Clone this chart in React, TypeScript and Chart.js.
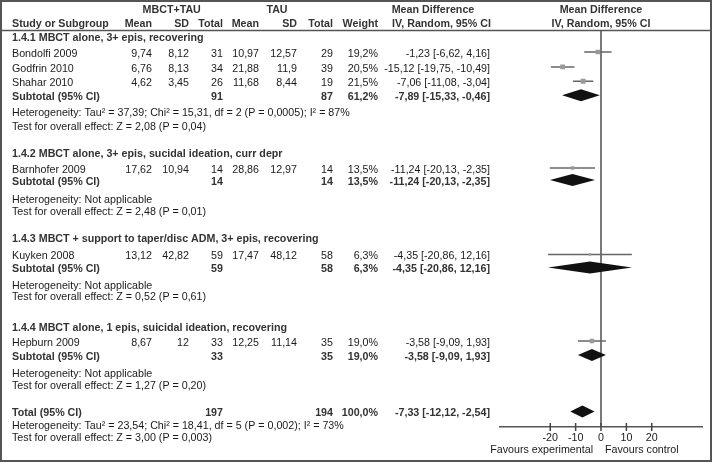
import { useEffect, useRef } from 'react';
import { Chart, registerables } from 'chart.js';

Chart.register(...registerables);

// ---------- DATA ----------
const studies = ['Bondolfi 2009', 'Godfrin 2010', 'Shahar 2010', 'Barnhofer 2009', 'Kuyken 2008', 'Hepburn 2009'];
const studyGroup = [0, 0, 0, 1, 2, 3];
const expMean = [9.74, 6.76, 4.62, 17.62, 13.12, 8.67];
const expSD = [8.12, 8.13, 3.45, 10.94, 42.82, 12];
const expN = [31, 34, 26, 14, 59, 33];
const ctlMean = [10.97, 21.88, 11.68, 28.86, 17.47, 12.25];
const ctlSD = [12.57, 11.9, 8.44, 12.97, 48.12, 11.14];
const ctlN = [29, 39, 19, 14, 58, 35];
const weight = [19.2, 20.5, 21.5, 13.5, 6.3, 19.0];
const md = [-1.23, -15.12, -7.06, -11.24, -4.35, -3.58];
const ciLo = [-6.62, -19.75, -11.08, -20.13, -20.86, -9.09];
const ciHi = [4.16, -10.49, -3.04, -2.35, 12.16, 1.93];

const groupTitles = [
  '1.4.1 MBCT alone, 3+ epis, recovering',
  '1.4.2 MBCT alone, 3+ epis, sucidal ideation, curr depr',
  '1.4.3 MBCT + support to taper/disc ADM, 3+ epis, recovering',
  '1.4.4 MBCT alone, 1 epis, suicidal ideation, recovering',
];
const subExpN = [91, 14, 59, 33];
const subCtlN = [87, 14, 58, 35];
const subWeight = [61.2, 13.5, 6.3, 19.0];
const subMD = [-7.89, -11.24, -4.35, -3.58];
const subLo = [-15.33, -20.13, -20.86, -9.09];
const subHi = [-0.46, -2.35, 12.16, 1.93];
const subHet = [
  'Heterogeneity: Tau² = 37,39; Chi² = 15,31, df = 2 (P = 0,0005); I² = 87%',
  'Heterogeneity: Not applicable',
  'Heterogeneity: Not applicable',
  'Heterogeneity: Not applicable',
];
const subTest = [
  'Test for overall effect: Z = 2,08 (P = 0,04)',
  'Test for overall effect: Z = 2,48 (P = 0,01)',
  'Test for overall effect: Z = 0,52 (P = 0,61)',
  'Test for overall effect: Z = 1,27 (P = 0,20)',
];
const totalExpN = 197;
const totalCtlN = 194;
const totalWeight = 100.0;
const totalMD = -7.33;
const totalLo = -12.12;
const totalHi = -2.54;
const totalHet = 'Heterogeneity: Tau² = 23,54; Chi² = 18,41, df = 5 (P = 0,002); I² = 73%';
const totalTest = 'Test for overall effect: Z = 3,00 (P = 0,003)';

const axisTicks = [-20, -10, 0, 10, 20];
const axisMin = -40;
const axisMax = 40;
const favoursLeft = 'Favours experimental';
const favoursRight = 'Favours control';

// ---------- LAYOUT (row slots, 1 unit = one text line) ----------
const Y_MAX = 27.31;
const ROW_HDR1 = -1.57;
const ROW_HDR2 = -0.6;
const ROW_GROUP = [0.37, 8.32, 14.2, 20.34];
const ROW_STUDY = [1.45, 2.48, 3.47, 9.45, 15.41, 21.38];
const ROW_SUB = [4.43, 10.28, 16.31, 22.34];
const ROW_HET = [5.5, 11.52, 17.45, 23.5];
const ROW_TEST = [6.48, 12.32, 18.21, 24.34];
const ROW_TOTAL = 26.24;
const ROW_TOTHET = 27.1;
const ROW_TOTTEST = 27.93;
const ROW_FAV = 28.76;

const FONT = '"Liberation Sans", Arial, sans-serif';
const FS = 10.7;
const TEXT_DY = 2;
const COL = { name: 12, eMean: 152, eSD: 189, eN: 223, cMean: 259, cSD: 297, cN: 333, w: 378, ci: 490 };

const fmt = (v: number, d?: number) => (d === undefined ? String(v) : v.toFixed(d)).replace('.', ',');
const ciText = (m: number, l: number, h: number) => `${fmt(m, 2)} [${fmt(l, 2)}, ${fmt(h, 2)}]`;

const forestPlugin = {
  id: 'forest',
  beforeDatasetsDraw(chart: any) {
    const { ctx, chartArea, scales } = chart;
    const x0 = scales.x.getPixelForValue(0);
    ctx.save();
    ctx.strokeStyle = '#7a7a7a';
    ctx.lineWidth = 2;
    ctx.beginPath();
    ctx.moveTo(x0, chartArea.top);
    ctx.lineTo(x0, chartArea.bottom);
    ctx.stroke();
    ctx.restore();
  },
  afterDatasetsDraw(chart: any) {
    const { ctx, scales } = chart;
    const xs = scales.x;
    const ys = scales.y;
    const diamonds = subMD.map((m, i) => ({ m, l: subLo[i], h: subHi[i], r: ROW_SUB[i] }));
    diamonds.push({ m: totalMD, l: totalLo, h: totalHi, r: ROW_TOTAL });
    ctx.save();
    ctx.fillStyle = '#111';
    diamonds.forEach((d) => {
      const y = ys.getPixelForValue(d.r);
      const hh = 6;
      ctx.beginPath();
      ctx.moveTo(xs.getPixelForValue(d.l), y);
      ctx.lineTo(xs.getPixelForValue(d.m), y - hh);
      ctx.lineTo(xs.getPixelForValue(d.h), y);
      ctx.lineTo(xs.getPixelForValue(d.m), y + hh);
      ctx.closePath();
      ctx.fill();
    });
    ctx.restore();
  },
  afterDraw(chart: any) {
    const { ctx, chartArea, scales } = chart;
    const xs = scales.x;
    const ys = scales.y;
    const x0 = xs.getPixelForValue(0);
    ctx.save();
    // tick marks crossing the axis
    ctx.strokeStyle = '#444';
    ctx.lineWidth = 1.5;
    axisTicks.forEach((t) => {
      const x = xs.getPixelForValue(t);
      ctx.beginPath();
      ctx.moveTo(x, chartArea.bottom - 4);
      ctx.lineTo(x, chartArea.bottom + 4);
      ctx.stroke();
    });
    // frame and header rule
    ctx.strokeStyle = '#555';
    ctx.lineWidth = 2;
    ctx.strokeRect(1, 1, 710, 460);
    ctx.lineWidth = 1.5;
    ctx.beginPath();
    ctx.moveTo(1, 30.5);
    ctx.lineTo(711, 30.5);
    ctx.stroke();

    const txt = (s: string, x: number, row: number, align: CanvasTextAlign, bold = false) => {
      ctx.font = `${bold ? 'bold ' : ''}${FS}px ${FONT}`;
      ctx.fillStyle = bold ? '#333' : '#1a1a1a';
      ctx.textAlign = align;
      ctx.textBaseline = 'middle';
      ctx.fillText(s, x, ys.getPixelForValue(row) + TEXT_DY);
    };

    // headers
    txt('MBCT+TAU', 171.7, ROW_HDR1, 'center', true);
    txt('TAU', 277, ROW_HDR1, 'center', true);
    txt('Mean Difference', 433, ROW_HDR1, 'center', true);
    txt('Mean Difference', x0, ROW_HDR1, 'center', true);
    txt('Study or Subgroup', COL.name, ROW_HDR2, 'left', true);
    txt('Mean', COL.eMean, ROW_HDR2, 'right', true);
    txt('SD', COL.eSD, ROW_HDR2, 'right', true);
    txt('Total', COL.eN, ROW_HDR2, 'right', true);
    txt('Mean', COL.cMean, ROW_HDR2, 'right', true);
    txt('SD', COL.cSD, ROW_HDR2, 'right', true);
    txt('Total', COL.cN, ROW_HDR2, 'right', true);
    txt('Weight', COL.w, ROW_HDR2, 'right', true);
    txt('IV, Random, 95% CI', 441.5, ROW_HDR2, 'center', true);
    txt('IV, Random, 95% CI', x0, ROW_HDR2, 'center', true);

    groupTitles.forEach((g, gi) => {
      txt(g, COL.name, ROW_GROUP[gi], 'left', true);
      studies.forEach((s, i) => {
        if (studyGroup[i] !== gi) return;
        const r = ROW_STUDY[i];
        txt(s, COL.name, r, 'left');
        txt(fmt(expMean[i]), COL.eMean, r, 'right');
        txt(fmt(expSD[i]), COL.eSD, r, 'right');
        txt(String(expN[i]), COL.eN, r, 'right');
        txt(fmt(ctlMean[i]), COL.cMean, r, 'right');
        txt(fmt(ctlSD[i]), COL.cSD, r, 'right');
        txt(String(ctlN[i]), COL.cN, r, 'right');
        txt(fmt(weight[i], 1) + '%', COL.w, r, 'right');
        txt(ciText(md[i], ciLo[i], ciHi[i]), COL.ci, r, 'right');
      });
      const r = ROW_SUB[gi];
      txt('Subtotal (95% CI)', COL.name, r, 'left', true);
      txt(String(subExpN[gi]), COL.eN, r, 'right', true);
      txt(String(subCtlN[gi]), COL.cN, r, 'right', true);
      txt(fmt(subWeight[gi], 1) + '%', COL.w, r, 'right', true);
      txt(ciText(subMD[gi], subLo[gi], subHi[gi]), COL.ci, r, 'right', true);
      txt(subHet[gi], COL.name, ROW_HET[gi], 'left');
      txt(subTest[gi], COL.name, ROW_TEST[gi], 'left');
    });

    txt('Total (95% CI)', COL.name, ROW_TOTAL, 'left', true);
    txt(String(totalExpN), COL.eN, ROW_TOTAL, 'right', true);
    txt(String(totalCtlN), COL.cN, ROW_TOTAL, 'right', true);
    txt(fmt(totalWeight, 1) + '%', COL.w, ROW_TOTAL, 'right', true);
    txt(ciText(totalMD, totalLo, totalHi), COL.ci, ROW_TOTAL, 'right', true);
    txt(totalHet, COL.name, ROW_TOTHET, 'left');
    txt(totalTest, COL.name, ROW_TOTTEST, 'left');

    txt(favoursLeft, x0 - 8, ROW_FAV, 'right');
    txt(favoursRight, x0 + 4, ROW_FAV, 'left');
    ctx.restore();
  },
};

export default function App() {
  const ref = useRef<HTMLCanvasElement>(null);
  useEffect(() => {
    document.body.style.margin = '0';
    const canvas = ref.current;
    if (!canvas) return;
    const ciSets = studies.map((_, i) => ({
      type: 'scatter' as const,
      data: [
        { x: ciLo[i], y: ROW_STUDY[i] },
        { x: ciHi[i], y: ROW_STUDY[i] },
      ],
      showLine: true,
      borderColor: '#666',
      borderWidth: 1.5,
      pointRadius: 0,
      order: 2,
    }));
    const squares = {
      type: 'scatter' as const,
      data: md.map((m, i) => ({ x: m, y: ROW_STUDY[i] })),
      pointStyle: 'rect',
      pointRadius: weight.map((w) => (1.5 + w * 0.16) / Math.SQRT2),
      backgroundColor: '#9a9a9a',
      borderWidth: 0,
      order: 1,
    };
    const chart = new Chart(canvas, {
      type: 'scatter',
      data: { datasets: [squares, ...ciSets] as any },
      options: {
        responsive: false,
        devicePixelRatio: 1,
        animation: false,
        layout: { padding: { left: 499.5, right: 10.5, top: 31, bottom: 17 } },
        plugins: { legend: { display: false }, tooltip: { enabled: false } },
        scales: {
          x: {
            type: 'linear',
            min: axisMin,
            max: axisMax,
            position: 'bottom',
            grid: { display: false, drawTicks: false, tickLength: 0 },
            border: { display: true, color: '#555', width: 1.5 },
            ticks: {
              padding: 5,
              color: '#1a1a1a',
              font: { family: FONT, size: FS },
              autoSkip: false,
              maxRotation: 0,
              callback: (v: any) => String(v),
            },
            afterBuildTicks: (s: any) => {
              s.ticks = axisTicks.map((v) => ({ value: v }));
            },
            afterFit: (s: any) => {
              s.height = 20;
            },
          },
          y: { type: 'linear', reverse: true, min: 0, max: Y_MAX, display: false },
        },
      },
      plugins: [forestPlugin],
    });
    return () => chart.destroy();
  }, []);
  return <canvas ref={ref} width={713} height={464} style={{ display: 'block', width: 713, height: 464 }} />;
}
